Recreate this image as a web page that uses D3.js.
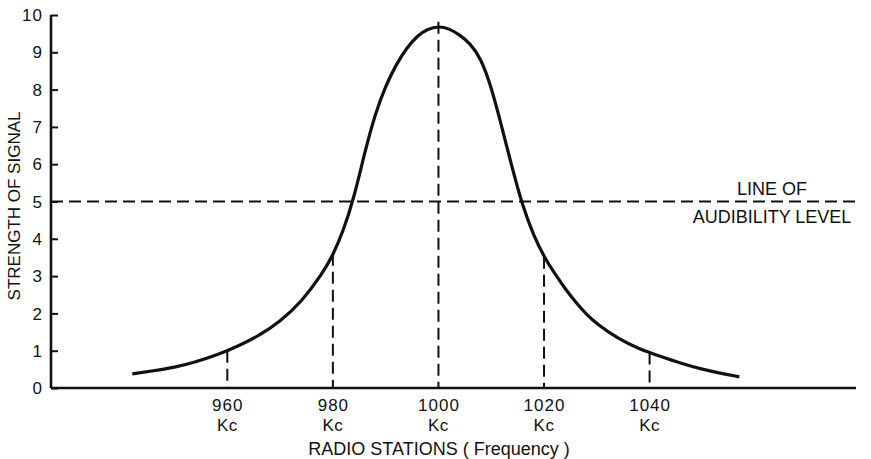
<!DOCTYPE html>
<html>
<head>
<meta charset="utf-8">
<script src="https://cdn.jsdelivr.net/npm/d3@7"></script>
<style>
  body { margin: 0; background: #fff; }
  svg text { font-family: "Liberation Sans", Arial, sans-serif; fill: #111; }
</style>
</head>
<body>
<div id="chart"></div>
<script>
var width = 871, height = 459;

// resonance curve (kc, strength)
var curveFreq = [942, 946, 950, 954, 958, 962, 966, 970, 974, 978, 980, 982, 984, 986, 988, 990, 992, 994, 996, 998, 1000,
                 1002, 1004, 1006, 1008, 1010, 1012, 1014, 1016, 1018, 1020, 1022, 1024, 1026, 1028, 1030, 1034, 1038, 1042, 1046, 1050, 1054, 1057];
var curveStrength = [0.38, 0.46, 0.55, 0.70, 0.88, 1.12, 1.40, 1.78, 2.30, 3.06, 3.56, 4.22, 5.10, 6.30, 7.35, 8.10, 8.68, 9.12, 9.45, 9.63, 9.70,
                     9.64, 9.47, 9.24, 8.85, 8.08, 7.00, 5.88, 4.85, 4.10, 3.52, 3.07, 2.66, 2.30, 1.98, 1.72, 1.32, 1.05, 0.85, 0.66, 0.50, 0.38, 0.30];

var stationFreq = [960, 980, 1000, 1020, 1040];
var stationLabel = ["960", "980", "1000", "1020", "1040"];
var stationStrength = [1.0, 3.6, 9.82, 3.52, 0.95];   // where the dashed drop lines stop

var yTicks = [0, 1, 2, 3, 4, 5, 6, 7, 8, 9, 10];
var audibilityLevel = 5;

var svg = d3.select("#chart").append("svg")
    .attr("width", width)
    .attr("height", height);

var x = d3.scaleLinear().domain([926.6, 1079.1]).range([51, 856]);
var y = d3.scaleLinear().domain([0, 10]).range([388, 15]);

// audibility line
svg.append("line")
    .attr("x1", x.range()[0]).attr("x2", 858)
    .attr("y1", y(audibilityLevel)).attr("y2", y(audibilityLevel))
    .attr("stroke", "#111").attr("stroke-width", 2)
    .attr("stroke-dasharray", "12,6");

// drop lines from curve to axis
svg.selectAll("line.drop")
    .data(stationFreq)
    .enter()
    .append("line")
    .attr("class", "drop")
    .attr("x1", d => x(d)).attr("x2", d => x(d))
    .attr("y1", (d, i) => y(stationStrength[i]))
    .attr("y2", y(0))
    .attr("stroke", "#111").attr("stroke-width", 2)
    .attr("stroke-dasharray", "12,6");

// the curve
var pts = curveFreq.map((f, i) => [f, curveStrength[i]]);
var line = d3.line()
    .x(d => x(d[0]))
    .y(d => y(d[1]))
    .curve(d3.curveBasis);

svg.append("path")
    .datum(pts)
    .attr("d", line)
    .attr("fill", "none")
    .attr("stroke", "#111")
    .attr("stroke-width", 3.2);

// y axis
var yAxis = d3.axisRight(y)
    .tickValues(yTicks)
    .tickSize(7)
    .tickFormat("");

var gy = svg.append("g")
    .attr("transform", "translate(51,0)")
    .call(yAxis);
gy.select(".domain").attr("stroke", "#111").attr("stroke-width", 2.6)
    .attr("d", `M0,${y(10)}V${y(0)}`);
gy.selectAll(".tick line").attr("stroke", "#111").attr("stroke-width", 2);

svg.selectAll("text.ylab")
    .data(yTicks)
    .enter()
    .append("text")
    .attr("class", "ylab")
    .attr("x", 43)
    .attr("y", d => y(d))
    .attr("dy", "0.36em")
    .style("text-anchor", "end")
    .style("font-size", "17px")
    .style("letter-spacing", "1px")
    .text(d => d);

// x axis
var xAxis = d3.axisBottom(x)
    .tickValues(stationFreq)
    .tickSize(0)
    .tickFormat("");

var gx = svg.append("g")
    .attr("transform", `translate(0,${y(0)})`)
    .call(xAxis);
gx.select(".domain").attr("stroke", "#111").attr("stroke-width", 2.6)
    .attr("d", `M${x.range()[0]},0H${x.range()[1]}`);

svg.selectAll("text.xlab")
    .data(stationFreq)
    .enter()
    .append("text")
    .attr("class", "xlab")
    .attr("x", d => x(d) + 0.5)
    .attr("y", 411)
    .style("text-anchor", "middle")
    .style("font-size", "17px")
    .style("letter-spacing", "1px")
    .text((d, i) => stationLabel[i]);

svg.selectAll("text.kc")
    .data(stationFreq)
    .enter()
    .append("text")
    .attr("class", "kc")
    .attr("x", d => x(d))
    .attr("y", 431)
    .style("text-anchor", "middle")
    .style("font-size", "17px")
    .style("letter-spacing", "0.5px")
    .text("Kc");

// titles
svg.append("text")
    .attr("x", 439)
    .attr("y", 455)
    .style("text-anchor", "middle")
    .style("font-size", "18px")
    .text("RADIO STATIONS ( Frequency )");

svg.append("text")
    .attr("transform", "translate(20,206) rotate(-90)")
    .style("text-anchor", "middle")
    .style("font-size", "17px")
    .text("STRENGTH OF SIGNAL");

svg.append("text")
    .attr("x", 772).attr("y", 195)
    .style("text-anchor", "middle")
    .style("font-size", "18px")
    .text("LINE OF");

svg.append("text")
    .attr("x", 772).attr("y", 223)
    .style("text-anchor", "middle")
    .style("font-size", "18px")
    .text("AUDIBILITY LEVEL");
</script>
</body>
</html>
